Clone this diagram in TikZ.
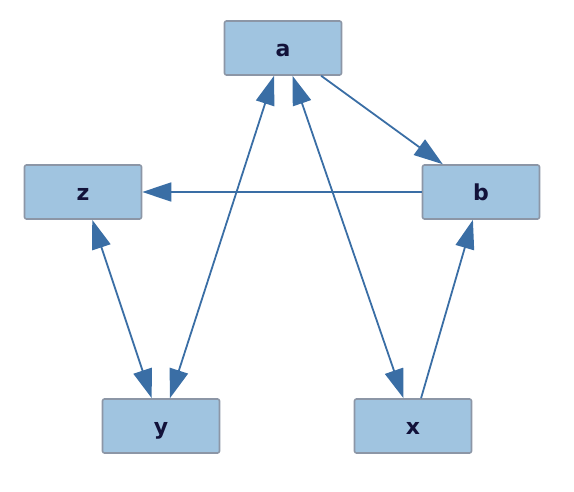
\documentclass[tikz,border=0pt]{standalone}
\usepackage{fontspec}
\setmainfont{DejaVu Sans}
\usepackage{xcolor}
\usepackage{tikz}
\usetikzlibrary{arrows.meta}

\definecolor{boxfill}{HTML}{A0C4E0}
\definecolor{boxline}{HTML}{8C96A6}
\definecolor{edgeblue}{HTML}{3A6EA5}
\definecolor{labelnavy}{HTML}{12123A}

\begin{document}
\begin{tikzpicture}[x=1pt,y=-1pt,
  vertex/.style={draw=boxline,line width=1.6pt,fill=boxfill,rounded corners=2pt,
    minimum width=117pt,minimum height=54pt,inner sep=0pt,
    text height=19pt,text depth=1pt,text=labelnavy,
    font=\fontsize{22}{24}\selectfont\bfseries},
  link/.style={draw=edgeblue,line width=1.8pt},
  >={Triangle[length=29pt,width=19pt]}]
  \useasboundingbox (0,0) rectangle (574,492);
  \node[vertex] (a) at (283,48) {a};
  \node[vertex] (b) at (481,192) {b};
  \node[vertex] (z) at (83,192) {z};
  \node[vertex] (y) at (161,426) {y};
  \node[vertex] (x) at (413,426) {x};
  \draw[link,->] (a) -- (b);
  \draw[link,->] (b) -- (z);
  \draw[link,<->] (z) -- (y);
  \draw[link,<->] (a) -- (y);
  \draw[link,<->] (a) -- (x);
  \draw[link,->] (x) -- (b);
\end{tikzpicture}
\end{document}
